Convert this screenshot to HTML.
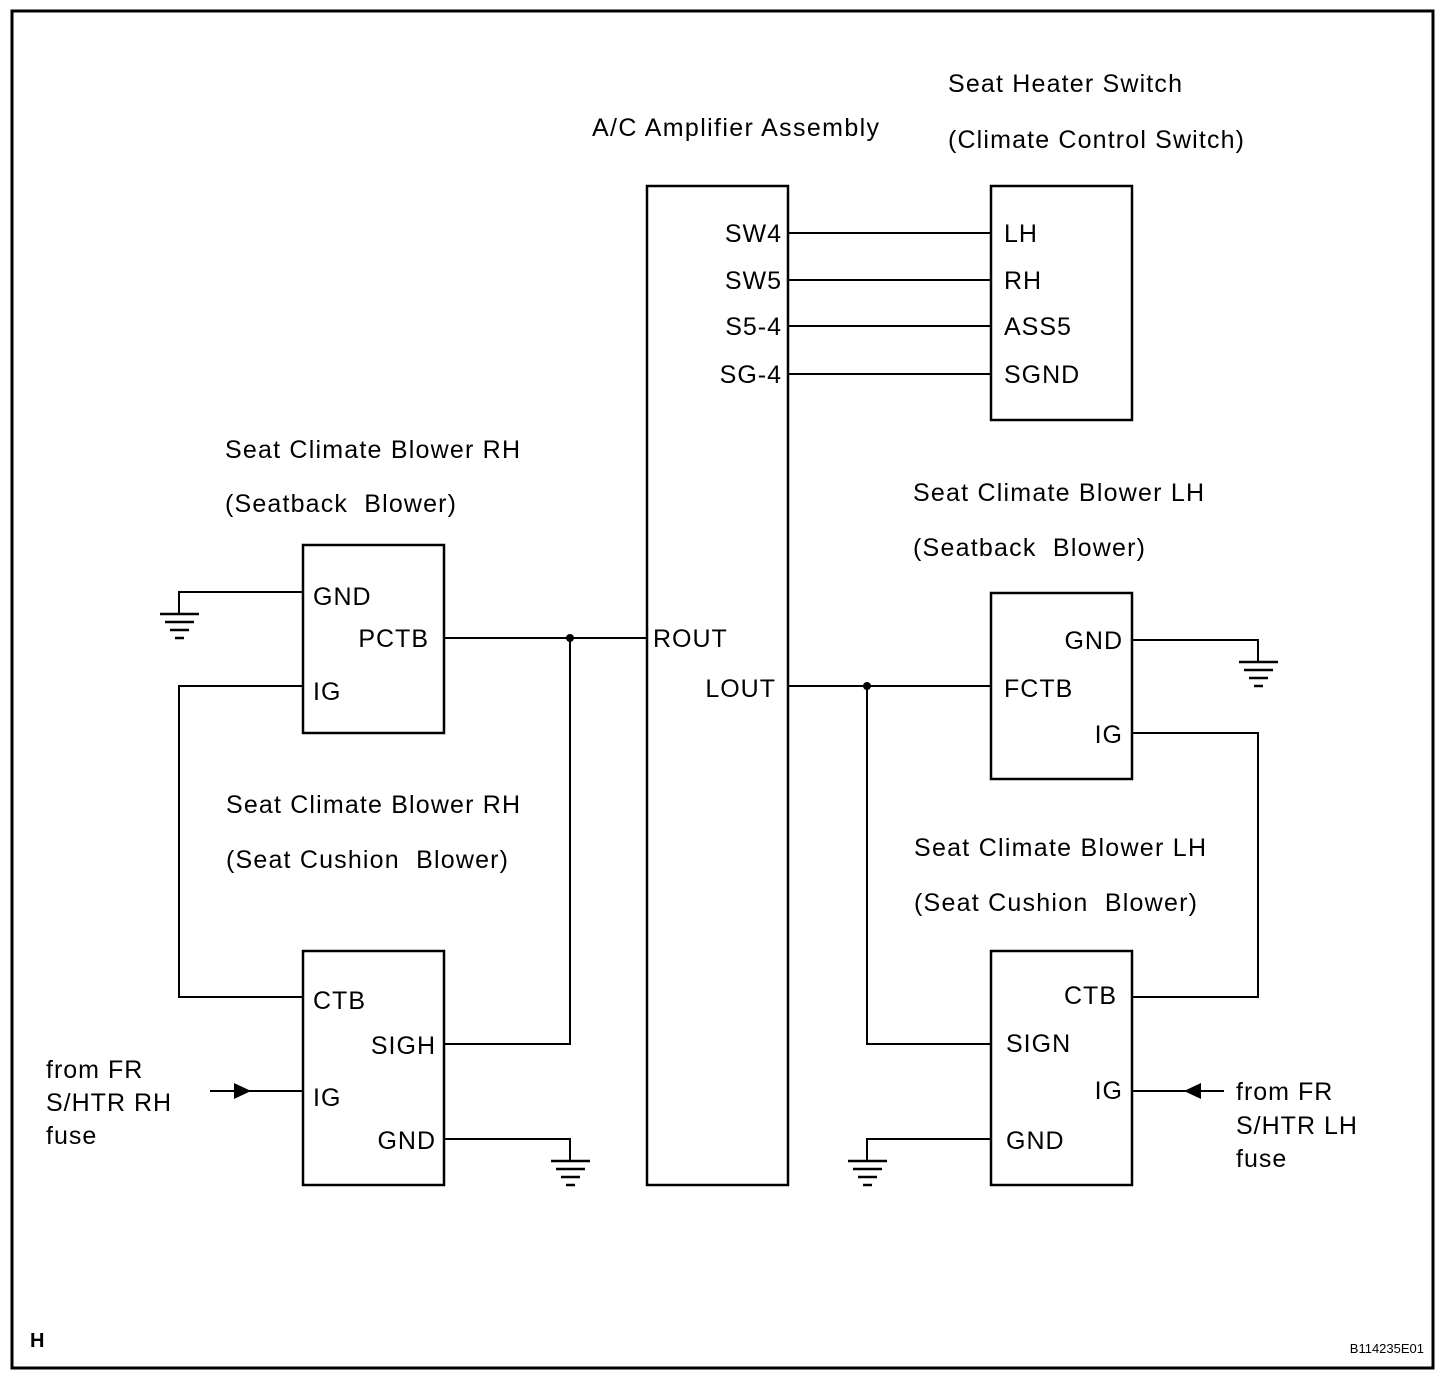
<!DOCTYPE html>
<html><head><meta charset="utf-8"><style>
html,body{margin:0;padding:0;background:#fff}
svg{display:block}
text{font-family:"Liberation Sans",Arial,sans-serif;font-size:25px;letter-spacing:1px;fill:#000;white-space:pre}
</style></head><body>
<svg width="1456" height="1382" viewBox="0 0 1456 1382" xmlns="http://www.w3.org/2000/svg" xml:space="preserve">
<rect x="12" y="11" width="1421" height="1357" fill="none" stroke="#000" stroke-width="3"/>
<g fill="none" stroke="#000" stroke-width="2.5">
<rect x="647" y="186" width="141" height="999"/>
<rect x="991" y="186" width="141" height="234"/>
<rect x="303" y="545" width="141" height="188"/>
<rect x="303" y="951" width="141" height="234"/>
<rect x="991" y="593" width="141" height="186"/>
<rect x="991" y="951" width="141" height="234"/>
</g>
<g fill="none" stroke="#000" stroke-width="2">
<line x1="788" y1="233" x2="991" y2="233"/>
<line x1="788" y1="280" x2="991" y2="280"/>
<line x1="788" y1="326" x2="991" y2="326"/>
<line x1="788" y1="374" x2="991" y2="374"/>
<line x1="444" y1="638" x2="647" y2="638"/>
<polyline points="570,638 570,1044 444,1044"/>
<polyline points="303,686 179,686 179,997 303,997"/>
<line x1="788" y1="686" x2="991" y2="686"/>
<polyline points="867,686 867,1044 991,1044"/>
<polyline points="1132,733 1258,733 1258,997 1132,997"/>
<polyline points="303,592 179,592 179,614"/>
<polyline points="1132,640 1258,640 1258,662"/>
<polyline points="444,1139 570,1139 570,1161"/>
<polyline points="991,1139 867,1139 867,1161"/>
<line x1="210" y1="1091" x2="303" y2="1091"/>
<line x1="1132" y1="1091" x2="1224" y2="1091"/>
</g>
<g stroke="#000" stroke-width="2.5">
<line x1="160" y1="614" x2="199" y2="614"/><line x1="165" y1="622" x2="194" y2="622"/><line x1="170" y1="630" x2="189" y2="630"/><line x1="175" y1="638" x2="184" y2="638"/>
<line x1="1239" y1="662" x2="1278" y2="662"/><line x1="1244" y1="670" x2="1273" y2="670"/><line x1="1249" y1="678" x2="1268" y2="678"/><line x1="1254" y1="686" x2="1263" y2="686"/>
<line x1="551" y1="1161" x2="590" y2="1161"/><line x1="556" y1="1169" x2="585" y2="1169"/><line x1="561" y1="1177" x2="580" y2="1177"/><line x1="566" y1="1185" x2="575" y2="1185"/>
<line x1="848" y1="1161" x2="887" y2="1161"/><line x1="853" y1="1169" x2="882" y2="1169"/><line x1="858" y1="1177" x2="877" y2="1177"/><line x1="863" y1="1185" x2="872" y2="1185"/>
</g>
<circle cx="570" cy="638" r="4" fill="#000"/>
<circle cx="867" cy="686" r="4" fill="#000"/>
<polygon points="234,1083 234,1099 251,1091" fill="#000"/>
<polygon points="1201,1083 1201,1099 1184,1091" fill="#000"/>
<text x="592" y="136" textLength="288">A/C Amplifier Assembly</text>
<text x="948" y="92" textLength="235">Seat Heater Switch</text>
<text x="948" y="148" textLength="297">(Climate Control Switch)</text>
<text x="225" y="458" textLength="296">Seat Climate Blower RH</text>
<text x="225" y="512" textLength="232">(Seatback  Blower)</text>
<text x="226" y="813" textLength="295">Seat Climate Blower RH</text>
<text x="226" y="868" textLength="283">(Seat Cushion  Blower)</text>
<text x="913" y="501" textLength="292">Seat Climate Blower LH</text>
<text x="913" y="556" textLength="233">(Seatback  Blower)</text>
<text x="914" y="856" textLength="293">Seat Climate Blower LH</text>
<text x="914" y="911" textLength="284">(Seat Cushion  Blower)</text>
<text x="782" y="242" text-anchor="end">SW4</text>
<text x="782" y="289" text-anchor="end">SW5</text>
<text x="782" y="335" text-anchor="end">S5-4</text>
<text x="782" y="383" text-anchor="end">SG-4</text>
<text x="653" y="647">ROUT</text>
<text x="776" y="697" text-anchor="end">LOUT</text>
<text x="1004" y="242">LH</text>
<text x="1004" y="289">RH</text>
<text x="1004" y="335">ASS5</text>
<text x="1004" y="383">SGND</text>
<text x="313" y="605">GND</text>
<text x="429" y="647" text-anchor="end">PCTB</text>
<text x="313" y="700">IG</text>
<text x="313" y="1009">CTB</text>
<text x="436" y="1054" text-anchor="end">SIGH</text>
<text x="313" y="1106">IG</text>
<text x="436" y="1149" text-anchor="end">GND</text>
<text x="1123" y="649" text-anchor="end">GND</text>
<text x="1004" y="697">FCTB</text>
<text x="1123" y="743" text-anchor="end">IG</text>
<text x="1117" y="1004" text-anchor="end">CTB</text>
<text x="1006" y="1052">SIGN</text>
<text x="1123" y="1099" text-anchor="end">IG</text>
<text x="1006" y="1149">GND</text>
<text x="46" y="1078">from FR</text>
<text x="46" y="1111">S/HTR RH</text>
<text x="46" y="1144">fuse</text>
<text x="1236" y="1100">from FR</text>
<text x="1236" y="1134">S/HTR LH</text>
<text x="1236" y="1167">fuse</text>
<text x="30" y="1347" style="font-size:20px;font-weight:bold;letter-spacing:0">H</text>
<text x="1424" y="1353" text-anchor="end" style="font-size:13px;letter-spacing:0">B114235E01</text>
</svg>
</body></html>
